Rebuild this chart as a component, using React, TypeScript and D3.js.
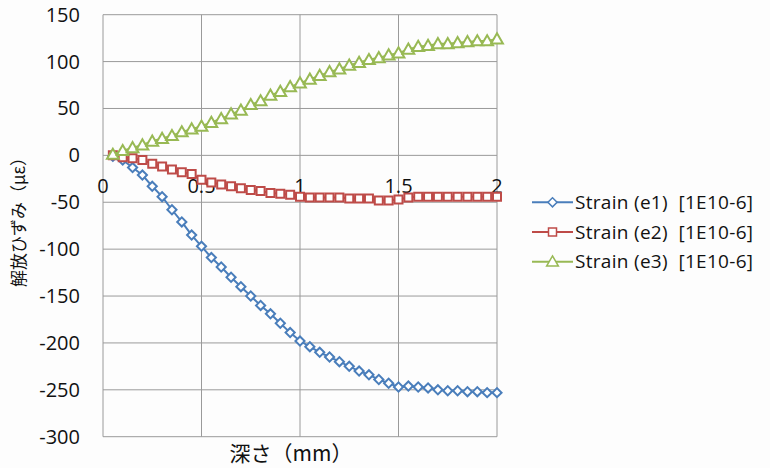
import React from "react";
import * as d3 from "d3";

const depth = [0.05,0.1,0.15,0.2,0.25,0.3,0.35,0.4,0.45,0.5,0.55,0.6,0.65,0.7,0.75,0.8,0.85,0.9,0.95,1.0,1.05,1.1,1.15,1.2,1.25,1.3,1.35,1.4,1.45,1.5,1.55,1.6,1.65,1.7,1.75,1.8,1.85,1.9,1.95,2.0];
const e1 = [-1,-5,-13,-21,-33,-44,-58,-71,-85,-97,-109,-119,-130,-140,-150,-160,-169,-179,-189,-198,-204,-210,-215,-220,-225,-230,-234,-239,-243,-247,-246,-247,-248,-250,-251,-251,-252,-252,-253,-253];
const e2 = [0,-2,-3,-5,-9,-12,-15,-18,-20,-26,-29,-31,-33,-35,-37,-38,-40,-41,-42,-44,-45,-45,-45,-45,-46,-46,-46,-48,-48,-47,-45,-44,-44,-44,-44,-44,-44,-44,-44,-44];
const e3 = [1,5,8,11,15,18,21,25,28,31,35,39,44,48,54,58,64,68,73,77,81,85,89,92,96,99,102,104,107,109,113,116,117,119,119,120,121,122,122,124];

const xTicks = [0, 0.5, 1, 1.5, 2];
const yTicks = [150, 100, 50, 0, -50, -100, -150, -200, -250, -300];
const seriesNames = ["Strain (e1)  [1E10-6]", "Strain (e2)  [1E10-6]", "Strain (e3)  [1E10-6]"];
const colors = ["#4A7EBB", "#BE4B48", "#98B954"];
const shapes = [d3.symbolSquare, d3.symbolSquare, d3.symbolTriangle];
const rotations = [45, 0, 0];

const W = 770, H = 468;
const L = 103, R = 497, T = 14.7, B = 436.7;
const FONT = "'Open Sans', 'Noto Sans CJK JP', sans-serif";
const JFONT = "'Noto Sans CJK JP', sans-serif";

export default function App() {
  const x = d3.scaleLinear().domain([0, 2]).range([L, R]);
  const y = d3.scaleLinear().domain([-300, 150]).range([B, T]);
  const data = [e1, e2, e3];
  const line = d3.line<number>().x((_, i) => x(depth[i])).y((d) => y(d));
  const sym = (k: number) => {
    const sizes = [42, 64, 60];
    return d3.symbol().type(shapes[k]).size(sizes[k])() as string;
  };
  return (
    <svg width={W} height={H} style={{ position: "absolute", left: 0, top: 0, background: "#fdfdfd" }}>
      {yTicks.map((t) => (
        <line key={"gy" + t} x1={L} x2={R} y1={y(t)} y2={y(t)} stroke="#9a9a9a" strokeWidth={1} />
      ))}
      {xTicks.map((t) => (
        <line key={"gx" + t} x1={x(t)} x2={x(t)} y1={T} y2={B} stroke="#9a9a9a" strokeWidth={1} />
      ))}
      {yTicks.map((t) => (
        <text key={"ty" + t} x={80} y={y(t)} dy="0.35em" textAnchor="end" fontFamily={FONT} fontSize={20} fill="#111">
          {t}
        </text>
      ))}
      {xTicks.map((t) => (
        <text key={"tx" + t} x={x(t)} y={193} textAnchor="middle" fontFamily={FONT} fontSize={20} fill="#111">
          {t}
        </text>
      ))}
      {data.map((s, k) => (
        <g key={"s" + k}>
          <path d={line(s) as string} fill="none" stroke={colors[k]} strokeWidth={2} />
          {s.map((v, i) => (
            <path key={i} d={sym(k)} transform={`translate(${x(depth[i])},${y(v) + (k === 2 ? 1 : 0)}) rotate(${rotations[k]})`} fill="#fff" stroke={colors[k]} strokeWidth={2} />
          ))}
        </g>
      ))}
      <text x={291} y={461} textAnchor="middle" fontFamily={JFONT} fontSize={21} fill="#111">
        深さ（mm）
      </text>
      <text transform="translate(25,218) rotate(-90)" textAnchor="middle" fontFamily={JFONT} fontSize={17} fill="#111">
        解放ひずみ（με）
      </text>
      {seriesNames.map((n, k) => {
        const ly = 202.3 + k * 29.7;
        return (
          <g key={"l" + k}>
            <line x1={532} x2={573} y1={ly} y2={ly} stroke={colors[k]} strokeWidth={2} />
            <path d={sym(k)} transform={`translate(552.5,${ly + (k === 2 ? 1 : 0)}) rotate(${rotations[k]})`} fill="#fff" stroke={colors[k]} strokeWidth={1.5} />
            <text x={575} y={ly} dy="0.35em" fontFamily={FONT} fontSize={19} letterSpacing={0.3} fill="#111" style={{ whiteSpace: "pre" }}>
              {n}
            </text>
          </g>
        );
      })}
    </svg>
  );
}
